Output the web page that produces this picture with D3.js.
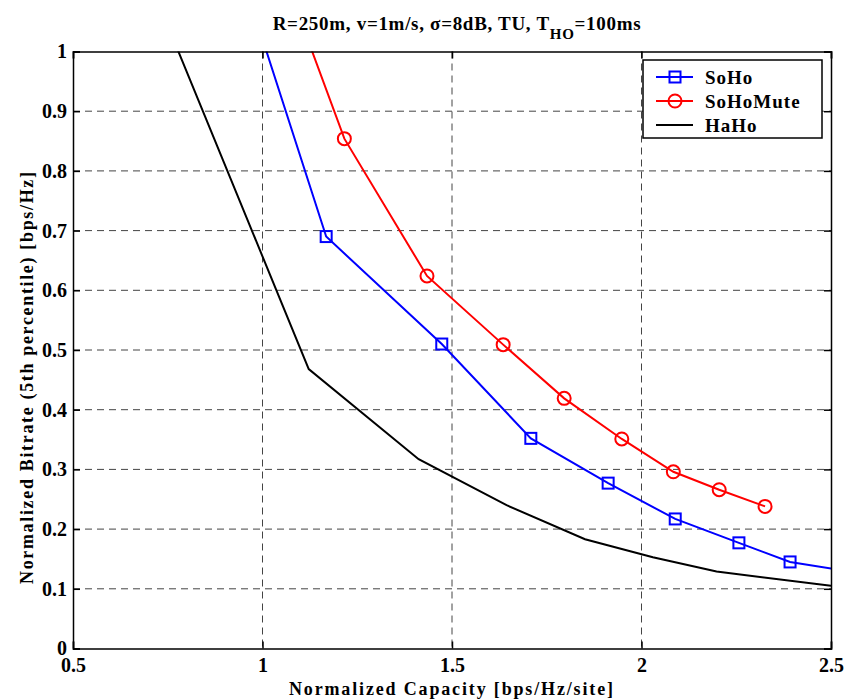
<!DOCTYPE html>
<html>
<head>
<meta charset="utf-8">
<script src="https://cdn.jsdelivr.net/npm/d3@7"></script>
<style>
  body { margin: 0; background: #fff; }
  svg { display: block; font-family: 'Liberation Serif', 'Times New Roman', serif; font-weight: bold; }
  .grid line { stroke: #444; stroke-dasharray: 7,5; stroke-width: 1; }
  .axis path, .axis line { stroke: #000; stroke-width: 1.5; }
  .axis text { font-size: 20px; fill: #000; font-family: 'Liberation Serif', serif; font-weight: bold; }
</style>
</head>
<body>
<div class="chart"></div>
<script>
// values
const xTicks = [0.5, 1, 1.5, 2, 2.5];
const yTicks = [0, 0.1, 0.2, 0.3, 0.4, 0.5, 0.6, 0.7, 0.8, 0.9, 1];

const sohoX = [0.97, 1.168, 1.473, 1.708, 1.912, 2.089, 2.257, 2.392, 2.56];
const sohoY = [1.08, 0.69, 0.51, 0.352, 0.277, 0.217, 0.177, 0.145, 0.128];

const muteX = [1.102, 1.216, 1.434, 1.635, 1.796, 1.948, 2.084, 2.205, 2.326];
const muteY = [1.05, 0.854, 0.624, 0.509, 0.419, 0.351, 0.296, 0.266, 0.238];

const hahoX = [0.76, 1.122, 1.412, 1.644, 1.851, 2.03, 2.198, 2.5];
const hahoY = [1.028, 0.468, 0.317, 0.240, 0.183, 0.153, 0.129, 0.105];

const seriesNames = ['SoHo', 'SoHoMute', 'HaHo'];

const zip = (xs, ys) => xs.map((x, i) => ({ x: x, y: ys[i] }));
const series = [
  { name: seriesNames[0], color: '#0000ff', marker: 'square', data: zip(sohoX, sohoY) },
  { name: seriesNames[1], color: '#ff0000', marker: 'circle', data: zip(muteX, muteY) },
  { name: seriesNames[2], color: '#000000', marker: 'none', data: zip(hahoX, hahoY) }
];

const W = 844, H = 699;
const margin = { top: 51.5, right: 13, bottom: 50.5, left: 73 };
const width = W - margin.left - margin.right;
const height = H - margin.top - margin.bottom;

const root = d3.select('.chart')
  .append('svg')
    .attr('width', W)
    .attr('height', H);

const svg = root.append('g')
  .attr('transform', `translate(${margin.left}, ${margin.top})`);

const xScale = d3.scaleLinear().domain([0.5, 2.5]).range([0, width]);
const yScale = d3.scaleLinear().domain([0, 1]).range([height, 0]);

// dashed grid
svg.append('g')
  .attr('class', 'grid')
  .selectAll('line.v')
  .data(xTicks.slice(1, -1))
  .enter()
  .append('line')
    .attr('x1', d => xScale(d)).attr('x2', d => xScale(d))
    .attr('y1', 0).attr('y2', height);

svg.append('g')
  .attr('class', 'grid')
  .selectAll('line.h')
  .data(yTicks.slice(1, -1))
  .enter()
  .append('line')
    .attr('x1', 0).attr('x2', width)
    .attr('y1', d => yScale(d)).attr('y2', d => yScale(d));

svg.append('clipPath')
  .attr('id', 'clip')
  .append('rect')
    .attr('width', width)
    .attr('height', height);

const plot = svg.append('g').attr('clip-path', 'url(#clip)');

const line = d3.line()
  .x(d => xScale(d.x))
  .y(d => yScale(d.y));

series.forEach(s => {
  plot.append('path')
    .datum(s.data)
    .attr('d', line)
    .attr('stroke', s.color)
    .style('stroke-width', 2)
    .style('fill', 'none');

  if (s.marker === 'square') {
    plot.selectAll(null)
      .data(s.data)
      .enter()
      .append('rect')
        .attr('x', d => xScale(d.x) - 5.5)
        .attr('y', d => yScale(d.y) - 5.5)
        .attr('width', 11)
        .attr('height', 11)
        .attr('fill', 'none')
        .attr('stroke', s.color)
        .attr('stroke-width', 2);
  } else if (s.marker === 'circle') {
    plot.selectAll(null)
      .data(s.data)
      .enter()
      .append('circle')
        .attr('cx', d => xScale(d.x))
        .attr('cy', d => yScale(d.y))
        .attr('r', 6.5)
        .attr('fill', 'none')
        .attr('stroke', s.color)
        .attr('stroke-width', 2);
  }
});

// axes, ticks pointing inwards like matlab
svg.append('g')
  .attr('class', 'axis')
  .attr('transform', `translate(0, ${height})`)
  .call(d3.axisBottom(xScale).tickValues(xTicks).tickSize(-7).tickPadding(9).tickFormat(d3.format('')));

svg.append('g')
  .attr('class', 'axis')
  .call(d3.axisLeft(yScale).tickValues(yTicks).tickSize(-7).tickPadding(6).tickFormat(d3.format('')));

svg.append('g')
  .attr('class', 'axis')
  .call(d3.axisTop(xScale).tickValues(xTicks).tickSize(-7).tickFormat(''));

svg.append('g')
  .attr('class', 'axis')
  .attr('transform', `translate(${width}, 0)`)
  .call(d3.axisRight(yScale).tickValues(yTicks).tickSize(-7).tickFormat(''));

svg.selectAll('.axis .domain').attr('stroke-width', 2);

// title
const title = root.append('text')
  .attr('x', 457)
  .attr('y', 30)
  .attr('text-anchor', 'middle')
  .style('font-size', '19px')
  .style('letter-spacing', '0.7px');
title.append('tspan').text('R=250m, v=1m/s, σ=8dB, TU, T');
title.append('tspan').attr('dy', 9).style('font-size', '15px').text('HO');
title.append('tspan').attr('dy', -9).text('=100ms');

// axis labels
root.append('text')
  .attr('x', 451)
  .attr('y', 695)
  .attr('text-anchor', 'middle')
  .style('font-size', '18px')
  .attr('textLength', 324)
  .text('Normalized Capacity [bps/Hz/site]');

root.append('text')
  .attr('transform', 'translate(33, 378) rotate(-90)')
  .attr('text-anchor', 'middle')
  .style('font-size', '18px')
  .attr('textLength', 412)
  .text('Normalized Bitrate (5th percentile) [bps/Hz]');

// legend
const legend = root.append('g')
  .attr('transform', 'translate(643, 60)');

legend.append('rect')
  .attr('width', 179)
  .attr('height', 78)
  .attr('fill', '#fff')
  .attr('stroke', '#000')
  .attr('stroke-width', 1.5);

const rows = legend.selectAll('.row')
  .data(series)
  .enter()
  .append('g')
    .attr('class', 'row')
    .attr('transform', (d, i) => `translate(0, ${17 + i * 24})`);

rows.append('line')
  .attr('x1', 13).attr('x2', 50)
  .attr('stroke', d => d.color)
  .attr('stroke-width', 2);

rows.filter(d => d.marker === 'square')
  .append('rect')
    .attr('x', 26.5).attr('y', -5.5)
    .attr('width', 11).attr('height', 11)
    .attr('fill', 'none')
    .attr('stroke', d => d.color)
    .attr('stroke-width', 2);

rows.filter(d => d.marker === 'circle')
  .append('circle')
    .attr('cx', 32).attr('r', 6.5)
    .attr('fill', 'none')
    .attr('stroke', d => d.color)
    .attr('stroke-width', 2);

rows.append('text')
  .attr('x', 62)
  .attr('dy', '0.35em')
  .style('font-size', '19px')
  .style('letter-spacing', '1px')
  .text(d => d.name);
</script>
</body>
</html>
